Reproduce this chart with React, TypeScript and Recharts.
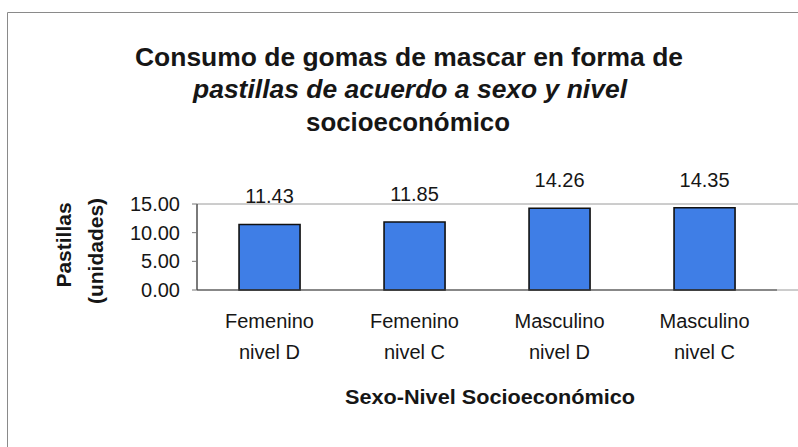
import React from "react";
import {
  BarChart,
  Bar,
  XAxis,
  YAxis,
  LabelList,
  ReferenceArea,
} from "recharts";

const categories = [
  "Femenino nivel D",
  "Femenino nivel C",
  "Masculino nivel D",
  "Masculino nivel C",
];
const values = [11.43, 11.85, 14.26, 14.35];
const yTicks = [0, 5, 10, 15];
const edgeTicks = [0, 1, 2, 3, 4];
const titleLines = [
  "Consumo de gomas de mascar en forma de",
  "pastillas de acuerdo a sexo y nivel",
  "socioeconómico",
];
const yTitleLines = ["Pastillas", "(unidades)"];
const xTitle = "Sexo-Nivel Socioeconómico";

const FONT = '"Liberation Sans", Arial, sans-serif';
const INK = "#161616";

const data = categories.map((name, i) => ({ name, value: values[i] }));

/** Etiqueta de categoría en dos líneas: "Femenino" / "nivel D" */
function CategoryTick(props: any) {
  const { x, y, payload } = props;
  const [first, ...rest] = String(payload.value).split(" ");
  return (
    <g>
      <text x={x} y={y + 38} textAnchor="middle" fontSize={20} fill={INK} fontFamily={FONT}>
        {first}
      </text>
      <text x={x} y={y + 69} textAnchor="middle" fontSize={20} fill={INK} fontFamily={FONT}>
        {rest.join(" ")}
      </text>
    </g>
  );
}

export default function App() {
  return (
    <div
      style={{
        position: "absolute",
        left: 0,
        top: 0,
        width: 798,
        height: 447,
        background: "#fff",
        fontFamily: FONT,
      }}
    >
      <BarChart
        width={798}
        height={447}
        data={data}
        margin={{ top: 204, right: 21, bottom: 0, left: 0 }}
        barCategoryGap="29%"
      >
        <XAxis
          xAxisId="edges"
          type="number"
          domain={[0, 4]}
          ticks={edgeTicks}
          tick={false}
          axisLine={false}
          tickLine={{ stroke: "#555" }}
          tickSize={6}
          height={0}
          allowDataOverflow
        />
        <XAxis
          xAxisId="cat"
          dataKey="name"
          type="category"
          height={157}
          tickSize={0}
          tickMargin={0}
          tickLine={false}
          axisLine={{ stroke: "#444", strokeWidth: 1.2 }}
          tick={<CategoryTick />}
          interval={0}
        />
        <YAxis
          width={197}
          domain={[0, 15]}
          ticks={yTicks}
          tickFormatter={(v: number) => v.toFixed(2)}
          tick={{ fill: INK, fontSize: 20, fontFamily: FONT }}
          tickLine={{ stroke: "#777" }}
          tickSize={5}
          tickMargin={12}
          axisLine={{ stroke: "#444", strokeWidth: 1.2 }}
        />
        {/* marcas interiores del eje Y (cruzan el eje como en Excel) */}
        <YAxis
          yAxisId="inner"
          mirror
          width={0}
          domain={[0, 15]}
          ticks={yTicks}
          tick={false}
          axisLine={false}
          tickLine={{ stroke: "#777" }}
          tickSize={5}
        />
        <ReferenceArea
          xAxisId="edges"
          x1={0}
          x2={4}
          y1={0}
          y2={15}
          fill="none"
          stroke="#9a9a9a"
          strokeWidth={1}
          ifOverflow="visible"
        />
        <Bar
          xAxisId="cat"
          dataKey="value"
          fill="#3f7ee6"
          stroke="#111"
          strokeWidth={1.6}
          isAnimationActive={false}
        >
          <LabelList
            dataKey="value"
            position="top"
            offset={21}
            formatter={(v: any) => Number(v).toFixed(2)}
            style={{ fill: INK, fontSize: 20, fontFamily: FONT }}
          />
        </Bar>
      </BarChart>

      <svg
        width={798}
        height={447}
        style={{ position: "absolute", left: 0, top: 0, pointerEvents: "none" }}
      >
        {/* marco exterior del gráfico (cortado a la derecha y abajo) */}
        <line x1={7.5} y1={12.5} x2={798} y2={12.5} stroke="#8a8a8a" />
        <line x1={7.5} y1={12.5} x2={7.5} y2={447} stroke="#8a8a8a" />

        <g fontFamily={FONT} fontWeight="bold" fill={INK} fontSize={25}>
          <text x={409} y={57} textAnchor="middle" dominantBaseline="central" textLength={548} lengthAdjust="spacingAndGlyphs">
            {titleLines[0]}
          </text>
          <text x={410} y={89} textAnchor="middle" dominantBaseline="central" fontStyle="italic" textLength={434} lengthAdjust="spacingAndGlyphs">
            {titleLines[1]}
          </text>
          <text x={408} y={122} textAnchor="middle" dominantBaseline="central" textLength={204} lengthAdjust="spacingAndGlyphs">
            {titleLines[2]}
          </text>
        </g>

        <g fontFamily={FONT} fontWeight="bold" fill={INK} fontSize={21}>
          <text transform="translate(63,245) rotate(-90)" textAnchor="middle" dominantBaseline="central">
            {yTitleLines[0]}
          </text>
          <text transform="translate(95,251) rotate(-90)" textAnchor="middle" dominantBaseline="central">
            {yTitleLines[1]}
          </text>
        </g>
        <text x={490} y={397} textAnchor="middle" dominantBaseline="central" fontFamily={FONT} fontWeight="bold" fill={INK} fontSize={20} textLength={290} lengthAdjust="spacingAndGlyphs">
          {xTitle}
        </text>
      </svg>
    </div>
  );
}
